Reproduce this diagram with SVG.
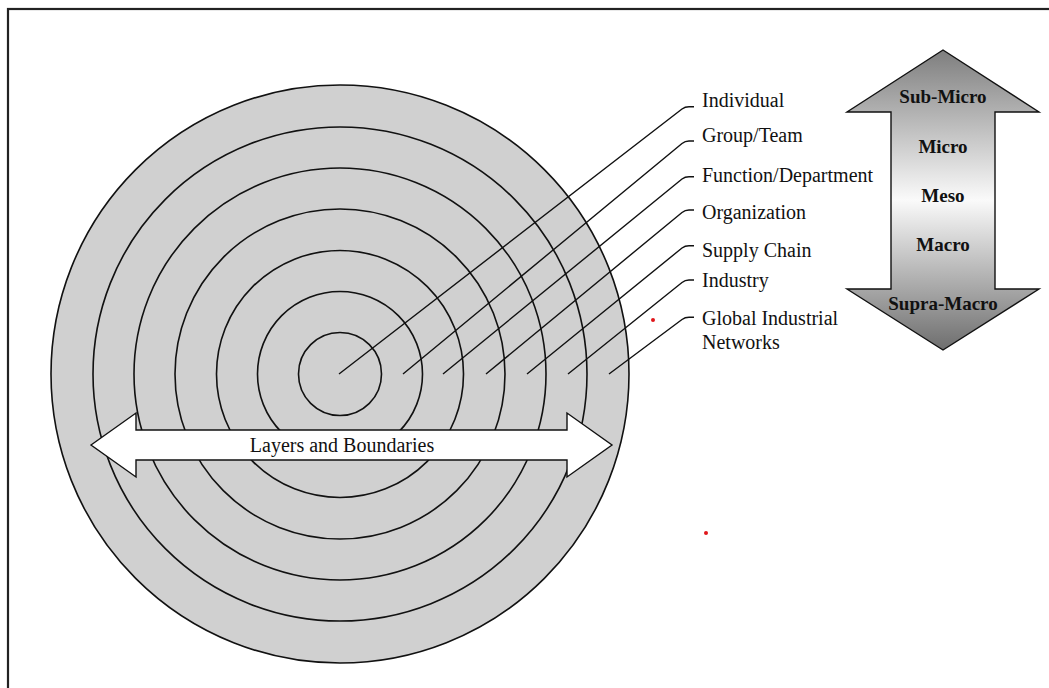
<svg xmlns="http://www.w3.org/2000/svg" width="1049" height="688" viewBox="0 0 1049 688">
  <style>
    .ring { fill: #d0d0d0; stroke: #111; stroke-width: 1.6; }
    .lead { fill: none; stroke: #111; stroke-width: 1.4; }
    .lbl { font-family: "Liberation Serif", "Times New Roman", serif; font-size: 20px; fill: #111; }
    .lvl { font-family: "Liberation Serif", "Times New Roman", serif; font-size: 19px; font-weight: bold; fill: #111; text-anchor: middle; }
    .dot { fill: #e0161b; }
  </style>
  <defs>
    <linearGradient id="scaleFill" x1="0" y1="50" x2="0" y2="350" gradientUnits="userSpaceOnUse">
      <stop offset="0" stop-color="#7e7e7e"/>
      <stop offset="0.5" stop-color="#fafafa"/>
      <stop offset="1" stop-color="#6e6e6e"/>
    </linearGradient>
  </defs>

  <rect width="1049" height="688" fill="#ffffff"/>
  <!-- frame (open to the right and bottom) -->
  <rect x="8" y="9" width="1100" height="720" fill="none" stroke="#222" stroke-width="2.2"/>

  <!-- concentric layers -->
  <g id="layers">
    <circle class="ring" cx="340" cy="374" r="289"/>
    <circle class="ring" cx="340" cy="374" r="247"/>
    <circle class="ring" cx="340" cy="374" r="206"/>
    <circle class="ring" cx="340" cy="374" r="165"/>
    <circle class="ring" cx="340" cy="374" r="123.5"/>
    <circle class="ring" cx="340" cy="374" r="82.5"/>
    <circle class="ring" cx="340" cy="374" r="41.5"/>
  </g>

  <!-- leader lines -->
  <g id="connectors">
    <path class="lead" d="M339,374 L682,109 Q685,106.7 689,106.7 L694,106.7"/>
    <path class="lead" d="M403,374 L682,143.5 Q685,141 689,141 L694,141"/>
    <path class="lead" d="M443,374 L682,179 Q685,176.7 689,176.7 L694,176.7"/>
    <path class="lead" d="M486,374 L682,212.5 Q685,210 689,210 L694,210"/>
    <path class="lead" d="M527,374 L682,248 Q685,245.7 689,245.7 L694,245.7"/>
    <path class="lead" d="M568,374 L682,282.5 Q685,280 689,280 L694,280"/>
    <path class="lead" d="M609,374 L682,319.5 Q685,317.3 689,317.3 L694,317.3"/>
  </g>

  <!-- layer labels -->
  <g id="label-individual"><text class="lbl" x="702" y="107">Individual</text></g>
  <g id="label-group"><text class="lbl" x="702" y="142">Group/Team</text></g>
  <g id="label-function"><text class="lbl" x="702" y="182">Function/Department</text></g>
  <g id="label-organization"><text class="lbl" x="702" y="219">Organization</text></g>
  <g id="label-supply"><text class="lbl" x="702" y="257">Supply Chain</text></g>
  <g id="label-industry"><text class="lbl" x="702" y="287">Industry</text></g>
  <g id="label-global"><text class="lbl" x="702" y="325">Global Industrial<tspan x="702" y="349">Networks</tspan></text></g>

  <!-- level scale double arrow -->
  <g id="level-scale">
    <polygon points="943,50 1039,112 995,112 995,289 1039,289 943,350 847,289 891,289 891,112 847,112" fill="url(#scaleFill)" stroke="#111" stroke-width="1.4"/>
    <text class="lvl" x="943" y="103">Sub-Micro</text>
    <text class="lvl" x="943" y="153">Micro</text>
    <text class="lvl" x="943" y="202">Meso</text>
    <text class="lvl" x="943" y="251">Macro</text>
    <text class="lvl" x="943" y="310">Supra-Macro</text>
  </g>

  <!-- layers and boundaries double arrow -->
  <g id="boundaries-arrow">
    <polygon points="91,445 136,413 136,430 567,430 567,413 612,445 567,477 567,460 136,460 136,477" fill="#ffffff" stroke="#111" stroke-width="1.4"/>
    <text class="lbl" x="342" y="452" text-anchor="middle">Layers and Boundaries</text>
  </g>

  <!-- marks -->
  <circle class="dot" cx="653" cy="320" r="2"/>
  <circle class="dot" cx="706" cy="533" r="2"/>
</svg>
